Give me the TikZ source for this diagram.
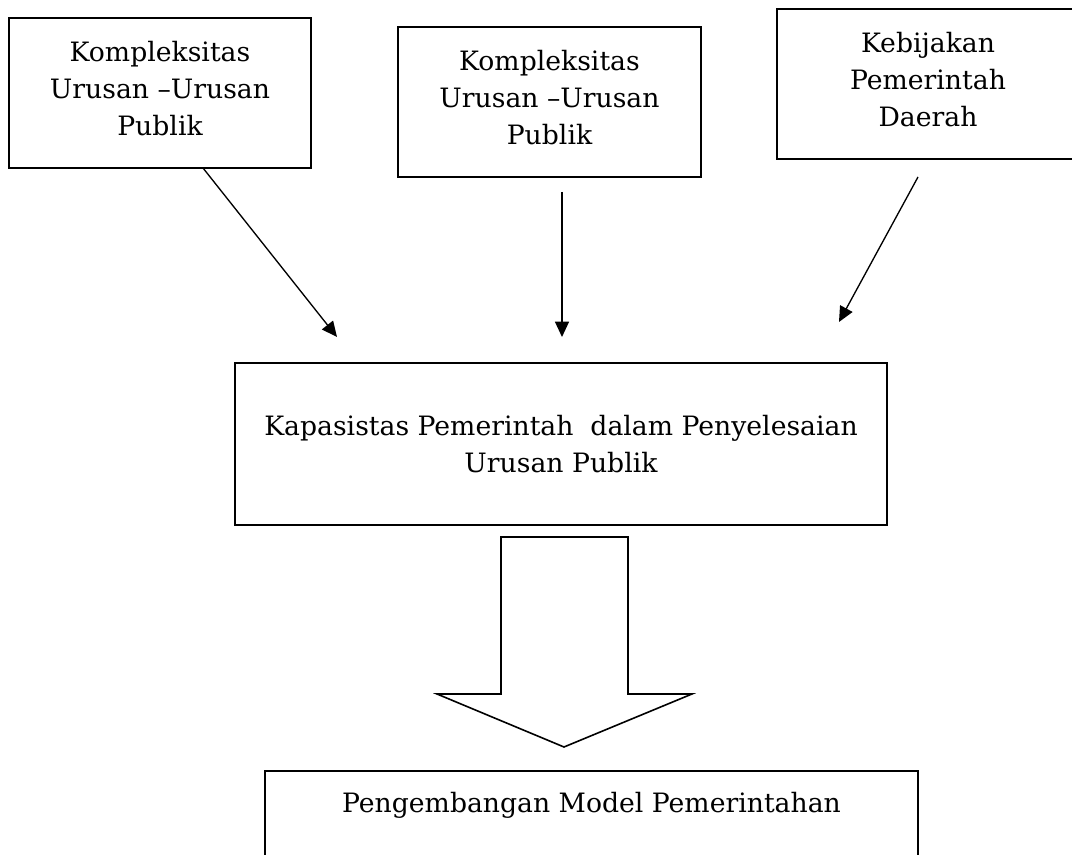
\documentclass[tikz,border=0pt]{standalone}
\usepackage{fontspec}
\setmainfont{DejaVu Serif}
\usetikzlibrary{arrows.meta}

\begin{document}
\begin{tikzpicture}[x=0.75pt, y=-0.75pt, >={Triangle[length=11.5pt, width=10.5pt]}]
    \tikzset{
        kotak/.style={draw, line width=1.2pt, align=center, inner sep=0pt,
            font=\fontsize{20}{28}\selectfont},
        teks/.style={align=center, inner sep=0pt, font=\fontsize{20}{28}\selectfont},
        panah/.style={->, line width=1pt}
    }
    \useasboundingbox (0,0) rectangle (1072,855);

    % Top boxes
    \node[kotak, minimum width=226.5pt, minimum height=112.5pt] (urusan1) at (160, 93)
        {Kompleksitas\\Urusan –Urusan\\Publik\\[-21pt]};
    \node[kotak, minimum width=227pt, minimum height=112.5pt] (urusan2) at (549.5, 102)
        {Kompleksitas\\Urusan –Urusan\\Publik\\[-21pt]};
    \node[kotak, minimum width=226.5pt, minimum height=112.5pt] (kebijakan) at (928, 84)
        {Kebijakan\\Pemerintah\\Daerah\\[-21pt]};

    % Middle box
    \node[kotak, minimum width=489pt, minimum height=121.5pt] (kapasitas) at (561, 444)
        {Kapasistas Pemerintah~ dalam Penyelesaian\\Urusan Publik};

    % Bottom box (runs past the lower edge)
    \node[kotak, minimum width=489.75pt, minimum height=90pt, anchor=north] (model) at (591.5, 770) {};
    \node[teks] (modelteks) at (591.5, 805) {Pengembangan Model Pemerintahan};

    % Arrow ends
    \coordinate (u1a) at (203, 168);
    \coordinate (u1b) at (337, 337);
    \coordinate (u2a) at (562, 192);
    \coordinate (u2b) at (562, 337);
    \coordinate (kba) at (918, 177);
    \coordinate (kbb) at (839, 322);

    \draw[panah] (u1a) -- (u1b);
    \draw[panah] (u2a) -- (u2b);
    \draw[panah] (kba) -- (kbb);

    % Block arrow down to the bottom box
    \draw[line width=1.2pt, line join=miter] (501, 537) -- (628, 537) -- (628, 694) -- (692, 694)
        -- (564, 747) -- (437, 694) -- (501, 694) -- cycle;
\end{tikzpicture}
\end{document}
